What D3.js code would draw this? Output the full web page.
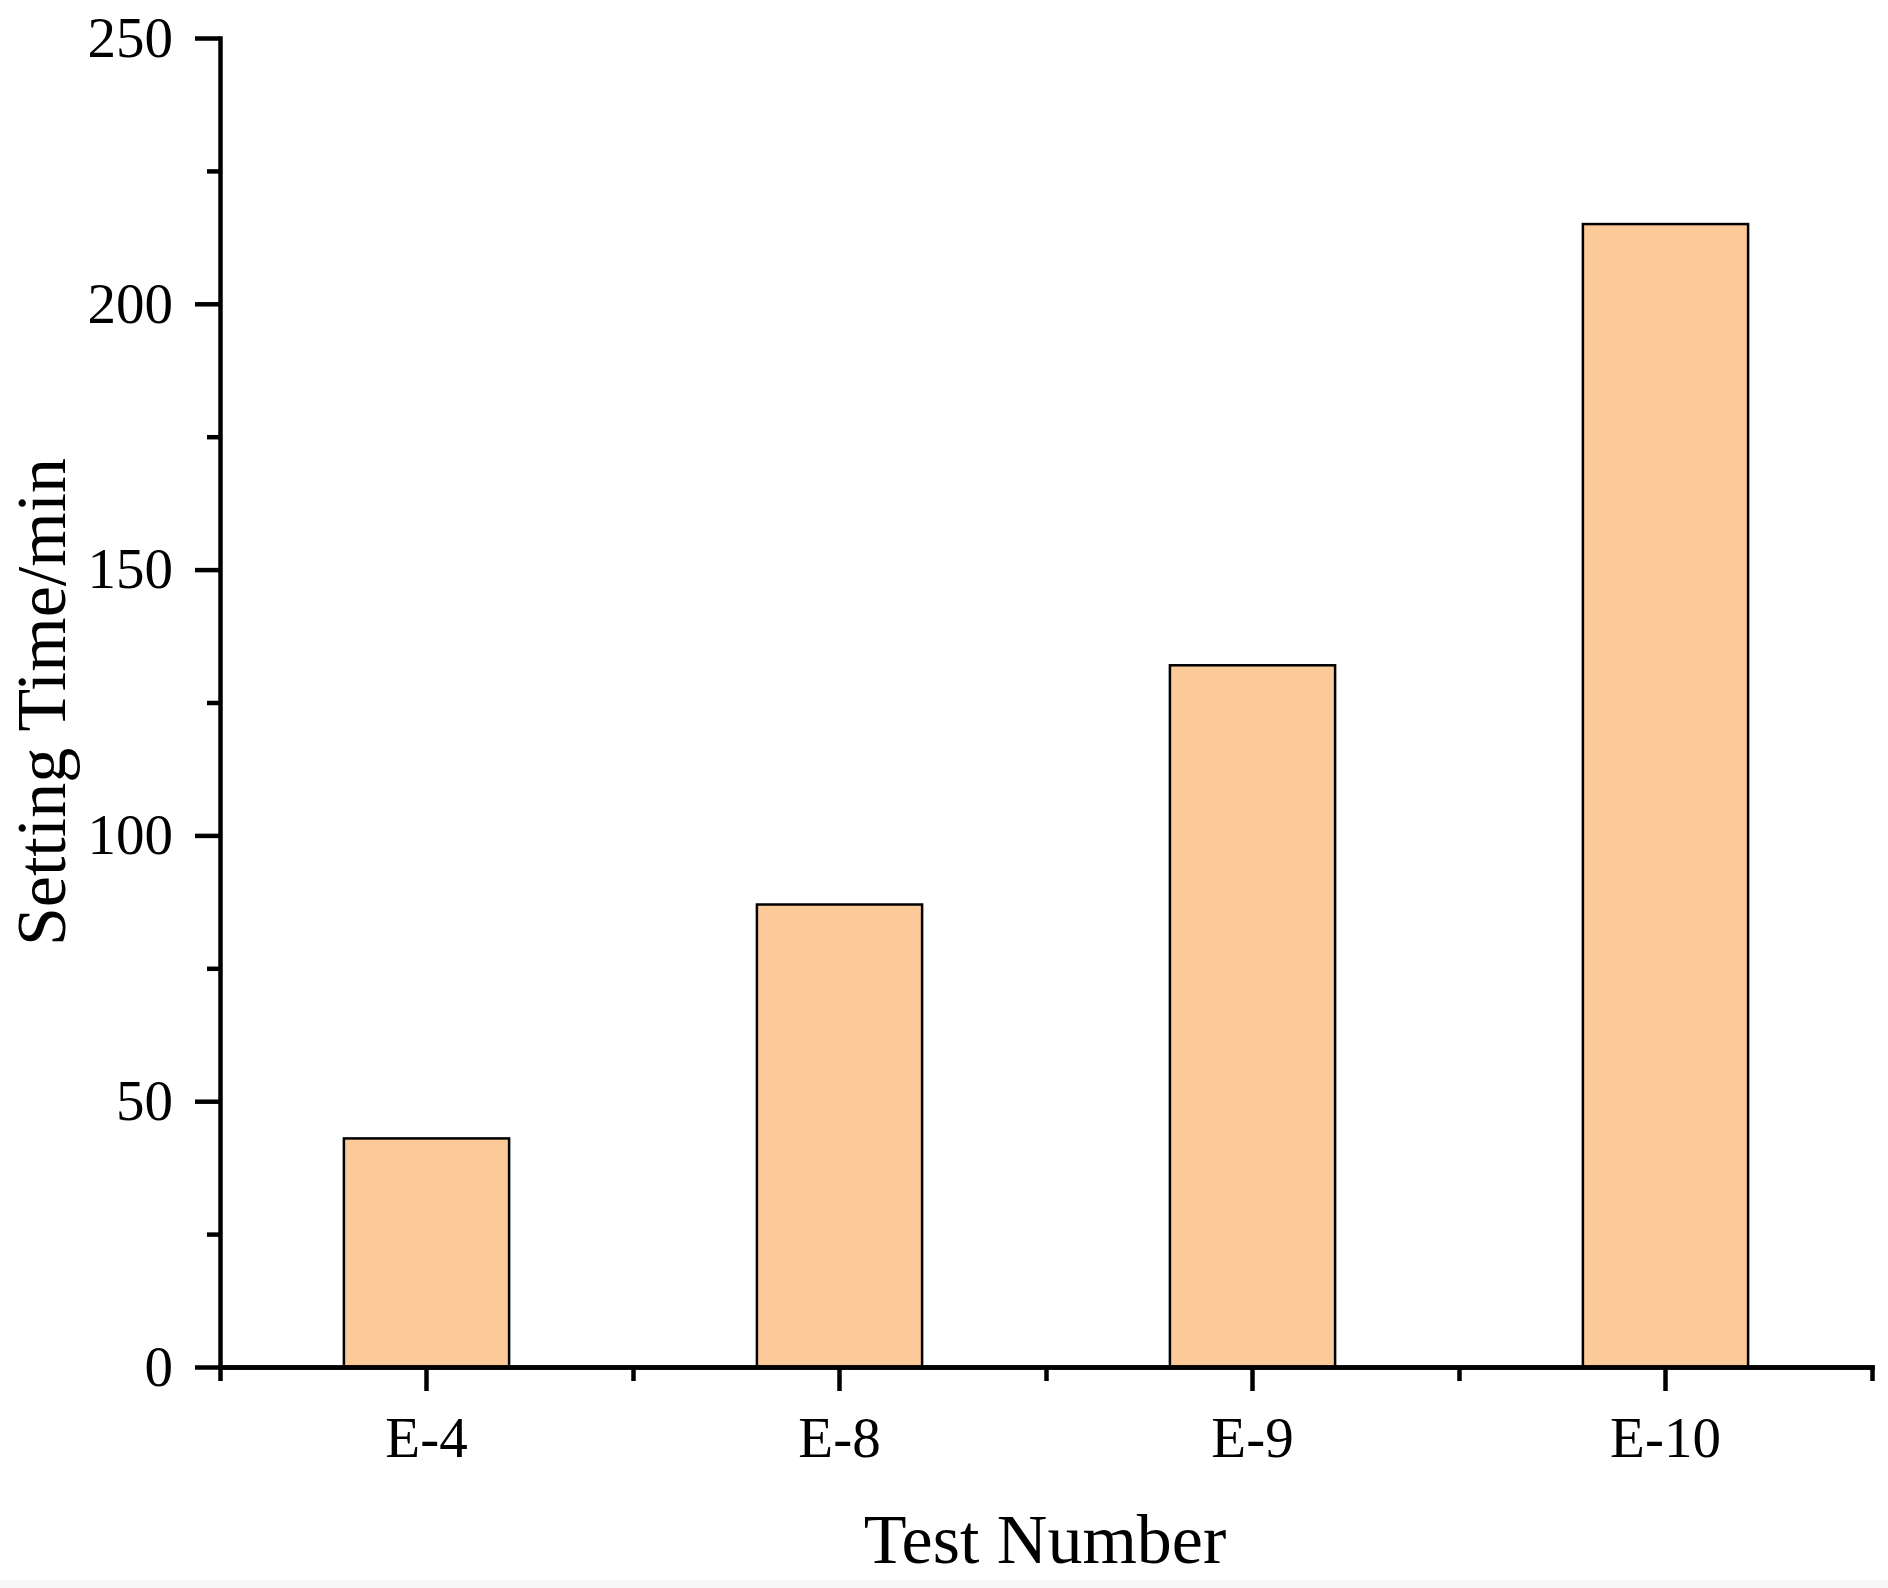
<html>
<head>
  <script src="https://d3js.org/d3.v7.min.js"></script>
  <style>
    body { margin: 0; background: white; }
    .axis path, .axis line { stroke: black; stroke-width: 4.5px; }
    .axis text { font-family: "Liberation Serif", "Times New Roman", serif; font-size: 57px; fill: black; }
    .label { font-family: "Liberation Serif", "Times New Roman", serif; font-size: 70px; fill: black; }
  </style>
</head>
<body>
  <svg id="chart" width="1888" height="1588"></svg>
  <script>
    // data
    const tests = ["E-4", "E-8", "E-9", "E-10"];
    const settingTime = [43, 87, 132, 215];
    const yMajorTicks = [0, 50, 100, 150, 200, 250];
    const yMinorTicks = [25, 75, 125, 175, 225];

    const svg = d3.select("svg#chart");
    const width = +svg.attr("width");
    const height = +svg.attr("height");
    const margin = { top: 38, right: 16, bottom: 221, left: 220 };
    const chartWidth = width - margin.left - margin.right;
    const chartHeight = height - margin.top - margin.bottom;

    const data = tests.map((t, i) => ({ test: t, value: settingTime[i] }));

    const xScale = d3.scaleBand()
      .domain(tests)
      .range([0, chartWidth])
      .paddingInner(0.6)
      .paddingOuter(0.3);

    const yScale = d3.scaleLinear()
      .domain([0, 250])
      .range([chartHeight, 0]);

    const chartArea = svg.append("g")
      .attr("transform", `translate(${margin.left},${margin.top})`);

    // bars
    chartArea.selectAll("rect.bar").data(data)
      .join("rect").attr("class", "bar")
      .attr("x", d => xScale(d.test))
      .attr("y", d => yScale(d.value))
      .attr("width", xScale.bandwidth())
      .attr("height", d => chartHeight - yScale(d.value))
      .attr("fill", "#FCC998")
      .attr("stroke", "black")
      .attr("stroke-width", 2.5);

    // minor ticks on x at band edges
    const xEdges = d3.scaleLinear().domain([0, tests.length]).range([0, chartWidth]);
    chartArea.append("g")
      .attr("class", "x axis minor")
      .attr("transform", `translate(0,${chartHeight})`)
      .call(d3.axisBottom(xEdges).ticks(tests.length).tickSize(14).tickFormat("").tickSizeOuter(0));

    // minor ticks on y
    chartArea.append("g")
      .attr("class", "y axis minor")
      .call(d3.axisLeft(yScale).tickValues(yMinorTicks).tickSize(13).tickFormat("").tickSizeOuter(0))
      .select(".domain").remove();

    // major y axis
    chartArea.append("g")
      .attr("class", "y axis")
      .call(d3.axisLeft(yScale).tickValues(yMajorTicks).tickSize(25).tickPadding(22).tickSizeOuter(0));

    // major x axis
    chartArea.append("g")
      .attr("class", "x axis")
      .attr("transform", `translate(0,${chartHeight})`)
      .call(d3.axisBottom(xScale).tickSize(24).tickPadding(26).tickSizeOuter(0));

    svg.selectAll(".axis path.domain").attr("stroke-linecap", "square");

    // axis titles
    svg.append("text")
      .attr("class", "label")
      .attr("text-anchor", "middle")
      .attr("x", 1045)
      .attr("y", 1563)
      .text("Test Number");

    svg.append("text")
      .attr("class", "label")
      .attr("text-anchor", "middle")
      .attr("font-size", "68px")
      .attr("transform", `translate(65,702)rotate(-90)`)
      .text("Setting Time/min");

    // faint strip at the bottom of the figure
    svg.append("rect")
      .attr("x", 0).attr("y", 1580)
      .attr("width", width).attr("height", 8)
      .attr("fill", "#f7f7f7");
  </script>
</body>
</html>
